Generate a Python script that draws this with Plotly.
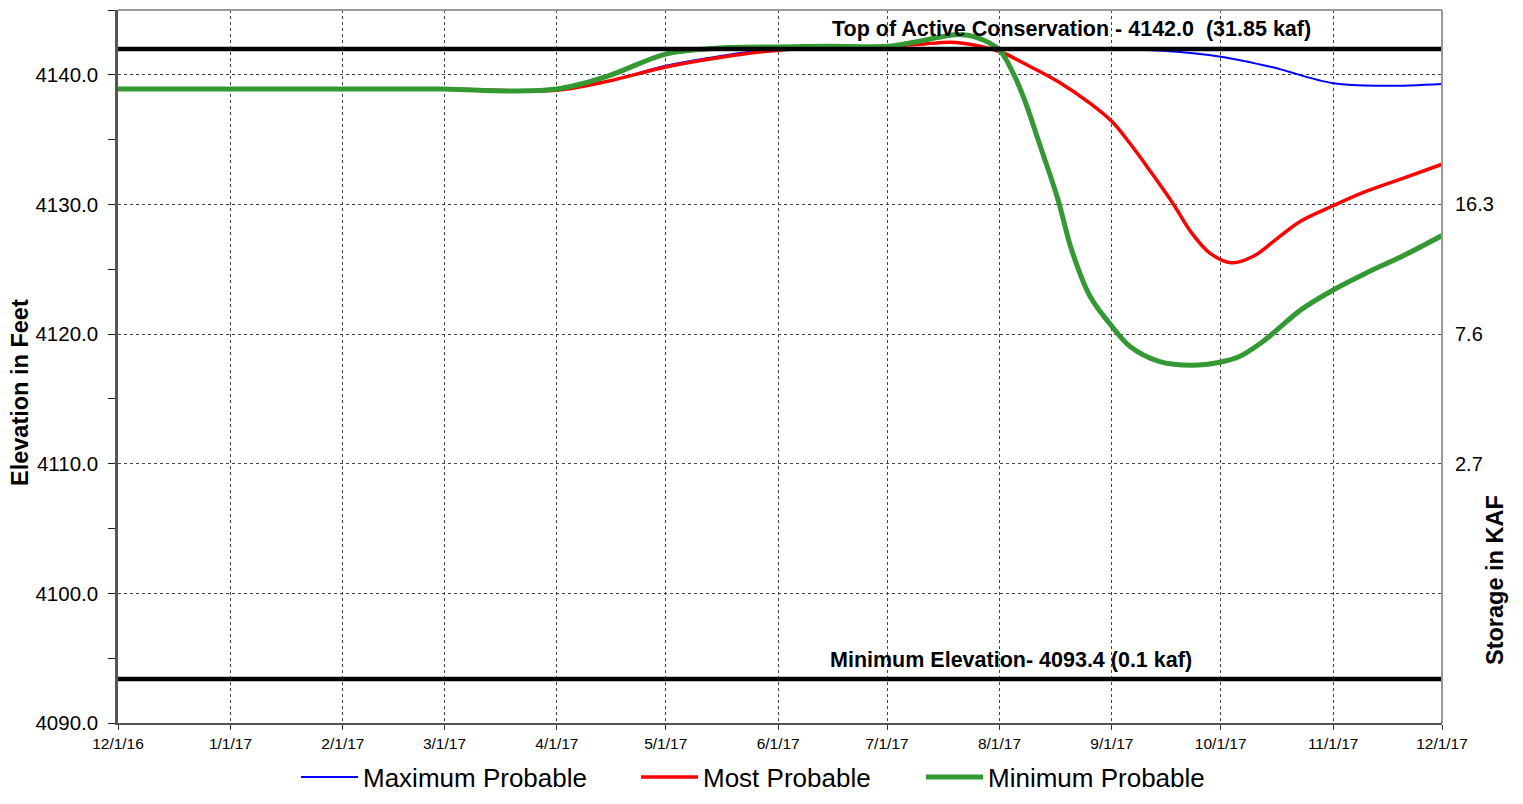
import plotly.graph_objects as go

# ---- data ----
max_dates = ["2016-12-01", "2017-01-01", "2017-02-01", "2017-03-01", "2017-03-15", "2017-04-01",
             "2017-04-15", "2017-05-01", "2017-05-15", "2017-06-01", "2017-07-01", "2017-08-01",
             "2017-09-01", "2017-09-15", "2017-10-01", "2017-10-15", "2017-11-01", "2017-11-15",
             "2017-12-01"]
max_prob = [4138.9, 4138.9, 4138.9, 4138.9, 4138.8, 4138.85,
            4139.5, 4140.7, 4141.4, 4142.0, 4142.0, 4142.0,
            4142.0, 4141.85, 4141.4, 4140.6, 4139.35, 4139.15,
            4139.3]

most_dates = ["2016-12-01", "2017-01-01", "2017-02-01", "2017-03-01", "2017-03-15", "2017-04-01",
              "2017-04-15", "2017-05-01", "2017-05-15", "2017-06-01", "2017-06-15", "2017-07-01",
              "2017-07-10", "2017-07-20", "2017-08-01", "2017-08-08", "2017-08-17", "2017-08-26",
              "2017-09-01", "2017-09-06", "2017-09-12", "2017-09-18", "2017-09-23", "2017-09-28",
              "2017-10-04", "2017-10-10", "2017-10-16", "2017-10-23", "2017-11-01", "2017-11-10",
              "2017-11-20", "2017-12-01"]
most_prob = [4138.9, 4138.9, 4138.9, 4138.9, 4138.8, 4138.8,
             4139.5, 4140.6, 4141.3, 4141.9, 4142.1, 4142.2,
             4142.35, 4142.5, 4141.8, 4140.85, 4139.5, 4137.8,
             4136.4, 4134.7, 4132.4, 4130.0, 4127.8, 4126.25,
             4125.5, 4126.0, 4127.25, 4128.7, 4129.9, 4131.0,
             4132.0, 4133.1]

min_dates = ["2016-12-01", "2017-01-01", "2017-02-01", "2017-03-01", "2017-03-18", "2017-04-01",
             "2017-04-15", "2017-05-01", "2017-05-15", "2017-06-01", "2017-06-15", "2017-07-01",
             "2017-07-10", "2017-07-20", "2017-07-26", "2017-08-01", "2017-08-05", "2017-08-08",
             "2017-08-12", "2017-08-17", "2017-08-21", "2017-08-26", "2017-09-01", "2017-09-06",
             "2017-09-14", "2017-09-23", "2017-10-01", "2017-10-06", "2017-10-12", "2017-10-16",
             "2017-10-23", "2017-11-01", "2017-11-10", "2017-11-20", "2017-12-01"]
min_prob = [4138.9, 4138.9, 4138.9, 4138.9, 4138.75, 4138.9,
            4139.9, 4141.6, 4142.05, 4142.15, 4142.2, 4142.2,
            4142.6, 4143.1, 4142.85, 4141.9, 4140.0, 4138.0,
            4134.7, 4130.5, 4126.4, 4122.9, 4120.6, 4119.05,
            4117.9, 4117.6, 4117.85, 4118.25, 4119.3, 4120.2,
            4121.85, 4123.4, 4124.7, 4126.0, 4127.6]

top_elev = 4142.0
min_elev = 4093.4
x_start, x_end = "2016-12-01", "2017-12-01"

month_ticks = ["2016-12-01", "2017-01-01", "2017-02-01", "2017-03-01", "2017-04-01", "2017-05-01",
               "2017-06-01", "2017-07-01", "2017-08-01", "2017-09-01", "2017-10-01", "2017-11-01",
               "2017-12-01"]
month_labels = ["12/1/16", "1/1/17", "2/1/17", "3/1/17", "4/1/17", "5/1/17", "6/1/17", "7/1/17",
                "8/1/17", "9/1/17", "10/1/17", "11/1/17", "12/1/17"]

storage_elev = [4130, 4120, 4110]
storage_labels = ["16.3", "7.6", "2.7"]

top_text = "Top of Active Conservation - 4142.0  (31.85 kaf)"
min_text = "Minimum Elevation- 4093.4 (0.1 kaf)"

FONT = "Liberation Sans, Arial, sans-serif"

# page offset (body margin) and plot box
W, H = 1507, 788
L, T, R, B = 110, 2, 73, 73
PW, PH = W - L - R, H - T - B


def px2paper(px, py):
    """page pixel -> paper coords (accounting for the 8px body margin)"""
    return (px - 8 - L) / PW, (H - B - (py - 8)) / PH


fig = go.Figure()
fig.add_trace(go.Scatter(x=max_dates, y=max_prob, name="Maximum Probable", mode="lines", legend="legend",
                         line=dict(color="#0000FF", width=2, shape="spline", smoothing=1.0)))
fig.add_trace(go.Scatter(x=most_dates, y=most_prob, name="Most Probable", mode="lines", legend="legend2",
                         line=dict(color="#FF0000", width=3.5, shape="spline", smoothing=1.0)))
fig.add_trace(go.Scatter(x=min_dates, y=min_prob, name="Minimum Probable", mode="lines", legend="legend3",
                         line=dict(color="#339933", width=5, shape="spline", smoothing=1.0)))
# reference lines on the overlaying axis (drawn on top)
fig.add_trace(go.Scatter(x=[x_start, x_end], y=[top_elev, top_elev], mode="lines", yaxis="y2",
                         line=dict(color="black", width=4.5), showlegend=False, hoverinfo="skip"))
fig.add_trace(go.Scatter(x=[x_start, x_end], y=[min_elev, min_elev], mode="lines", yaxis="y2",
                         line=dict(color="black", width=4.5), showlegend=False, hoverinfo="skip"))

leg_y = px2paper(0, 777)[1]


def leg(page_x):
    return dict(orientation="h", x=px2paper(page_x - 4, 0)[0], xanchor="left", y=leg_y,
                yanchor="middle", font=dict(size=26, family=FONT), itemwidth=57,
                bgcolor="rgba(0,0,0,0)", borderwidth=0)


fig.update_layout(
    width=W, height=H,
    margin=dict(l=L, r=R, t=T, b=B, autoexpand=False),
    paper_bgcolor="white", plot_bgcolor="white",
    font=dict(family=FONT, color="black"),
    showlegend=True,
    legend=leg(300), legend2=leg(640), legend3=leg(925),
    xaxis=dict(type="date", range=[x_start, x_end], tickvals=month_ticks, ticktext=month_labels,
               tickfont=dict(size=15.5, family=FONT), ticks="outside", ticklen=5, tickcolor="#333",
               showgrid=True, gridcolor="#444", griddash="dot", gridwidth=1,
               showline=True, linecolor="#555", linewidth=2, zeroline=False, mirror=False),
    yaxis=dict(range=[4090, 4145], tickvals=[4090, 4100, 4110, 4120, 4130, 4140],
               tickformat=".1f", tickfont=dict(size=20.5, family=FONT),
               ticks="outside", ticklen=7, tickcolor="#222", ticklabelstandoff=6,
               minor=dict(tickvals=[4095, 4105, 4115, 4125, 4135, 4145], ticks="outside",
                          ticklen=7, tickcolor="#222", showgrid=False),
               showgrid=True, gridcolor="#444", griddash="dot", gridwidth=1,
               showline=True, linecolor="#555", linewidth=2.5, zeroline=False),
    yaxis2=dict(range=[4090, 4145], overlaying="y", side="right", tickvals=storage_elev,
                ticktext=storage_labels, tickfont=dict(size=20, family=FONT), ticks="",
                ticklabelstandoff=12, showgrid=False, showline=False, zeroline=False),
)

# grey frame on top and right
fig.add_shape(type="line", xref="paper", yref="paper", x0=0, x1=1, y0=1, y1=1,
              line=dict(color="#999", width=2))
fig.add_shape(type="line", xref="paper", yref="paper", x0=1, x1=1, y0=0, y1=1,
              line=dict(color="#999", width=2))

fig.add_annotation(x=px2paper(1071, 0)[0], y=top_elev, xref="paper", yref="y",
                   text="<b>" + top_text + "</b>", showarrow=False, xanchor="center",
                   yanchor="bottom", yshift=6, font=dict(size=21.5, family=FONT))
fig.add_annotation(x=px2paper(1011, 0)[0], y=min_elev, xref="paper", yref="y",
                   text="<b>" + min_text + "</b>", showarrow=False, xanchor="center",
                   yanchor="bottom", yshift=5, font=dict(size=21.5, family=FONT))
ax, ay = px2paper(20, 393)
fig.add_annotation(x=ax, y=ay, xref="paper", yref="paper", text="<b>Elevation in Feet</b>",
                   showarrow=False, textangle=-90, xanchor="center", yanchor="middle",
                   font=dict(size=23.5, family=FONT))
bx, by = px2paper(1495, 580)
fig.add_annotation(x=bx, y=by, xref="paper", yref="paper", text="<b>Storage in KAF</b>",
                   showarrow=False, textangle=-90, xanchor="center", yanchor="middle",
                   font=dict(size=23.5, family=FONT))

fig.write_html("out.html")
